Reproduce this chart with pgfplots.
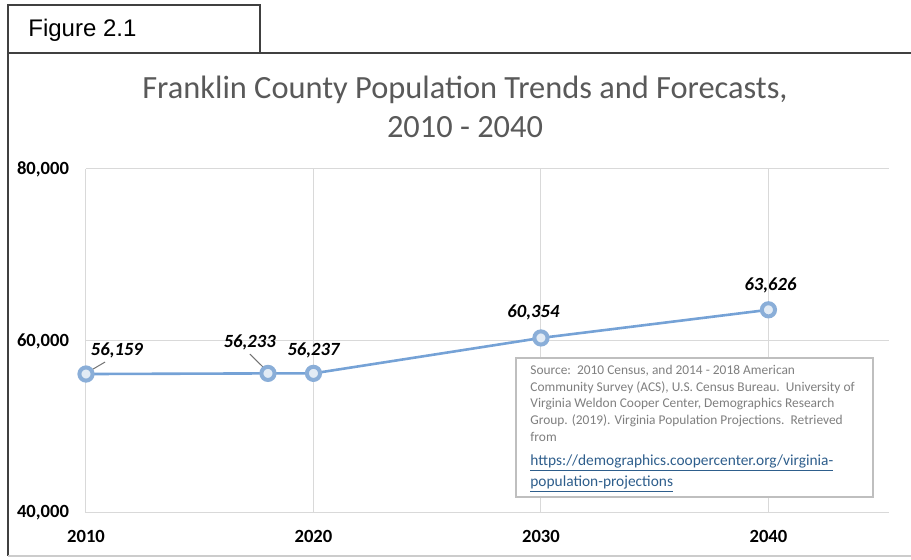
\documentclass[border=0pt]{standalone}
\usepackage{pgfplots}
\pgfplotsset{compat=1.18}
\usepackage{fontspec}
\setmainfont{Carlito}
\newfontfamily\arialfont{Liberation Sans}
\definecolor{ln}{HTML}{75A2D6}
\definecolor{mk}{HTML}{8AAED8}
\definecolor{gridc}{HTML}{D9D9D9}
\definecolor{titlec}{HTML}{595959}
\definecolor{srcc}{HTML}{7F7F7F}
\definecolor{linkc}{HTML}{2E5E8C}
\begin{document}
\begin{tikzpicture}
\useasboundingbox (0,0) rectangle (455.5pt,-280pt);
% frame
\draw[black!75, line width=0.6pt] (4pt,-26.5pt) -- (4pt,-2.5pt) -- (130pt,-2.5pt) -- (130pt,-26.5pt);
\draw[black!75, line width=0.6pt] (455.5pt,-26.5pt) -- (4pt,-26.5pt) -- (4pt,-278pt);
\draw[black!20, line width=0.6pt] (4pt,-278pt) -- (455.5pt,-278pt);
\node[font=\arialfont\fontsize{12}{14}\selectfont, anchor=west, inner sep=0pt] at (14pt,-15pt) {Figure 2.1};
% title
\node[align=center, text=titlec, font=\fontsize{16.2}{19.5}\selectfont, inner sep=0pt] at (232.5pt,-53.5pt)
  {Franklin County Population Trends and Forecasts,\\2010 - 2040};
\begin{axis}[
  at={(43pt,-256.5pt)}, anchor=south west,
  scale only axis, width=401.5pt, height=172pt,
  xmin=2010, xmax=2045.3, ymin=40000, ymax=80000,
  xtick={2010,2020,2030,2040}, xticklabels={2010,2020,2030,2040},
  ytick={40000,60000,80000},
  scaled y ticks=false,
  grid=major, grid style={gridc, line width=0.5pt},
  axis line style={draw=none},
  major tick length=0pt,
  tick label style={font=\bfseries\fontsize{9.3}{11}\selectfont, text=black},
  xticklabel style={yshift=-5pt},
  yticklabel style={xshift=-5pt},
  /pgf/number format/.cd, 1000 sep={,}, assume math mode=true,
  clip=false,
]
\addplot[color=ln, line width=1.3pt, mark=*, mark size=3.3pt,
  mark options={fill=mk!25, draw=mk, line width=2pt}]
  coordinates {(2010,56159) (2018,56233) (2020,56237) (2030,60354) (2040,63626)};
\draw[black!55, line width=0.5pt] (axis cs:2010.84,57558) -- (axis cs:2010.09,56395);
\draw[black!55, line width=0.5pt] (axis cs:2017.2,58488) -- (axis cs:2017.87,56744);
\begin{scope}[every node/.style={font=\bfseries\itshape\fontsize{9.3}{11}\selectfont, inner sep=0pt}]
\node at (axis cs:2011.36,58953) {56,159};
\node at (axis cs:2017.2,59884) {56,233};
\node at (axis cs:2020.0,58953) {56,237};
\node at (axis cs:2029.67,63372) {60,354};
\node at (axis cs:2040.09,66512) {63,626};
\end{scope}
\end{axis}
% source box
\draw[black!25, line width=0.7pt, fill=white] (258pt,-179pt) rectangle (436.5pt,-248.5pt);
\node[anchor=north west, align=left, inner sep=0pt, text=srcc, font=\fontsize{6.7}{8.3}\selectfont] at (265pt,-182.5pt)
  {Source:\ \ 2010 Census, and 2014 - 2018 American\\
   Community Survey (ACS), U.S. Census Bureau.\ \ University of\\
   Virginia Weldon Cooper Center, Demographics Research\\
   Group. (2019). Virginia Population Projections.\ \ Retrieved\\
   from};
\node[anchor=north west, align=left, inner sep=0pt, text=linkc, font=\fontsize{7.7}{10.5}\selectfont] at (265pt,-227pt)
  {\underline{https://demographics.coopercenter.org/virginia-}\\
   \underline{population-projections}};
\end{tikzpicture}
\end{document}
